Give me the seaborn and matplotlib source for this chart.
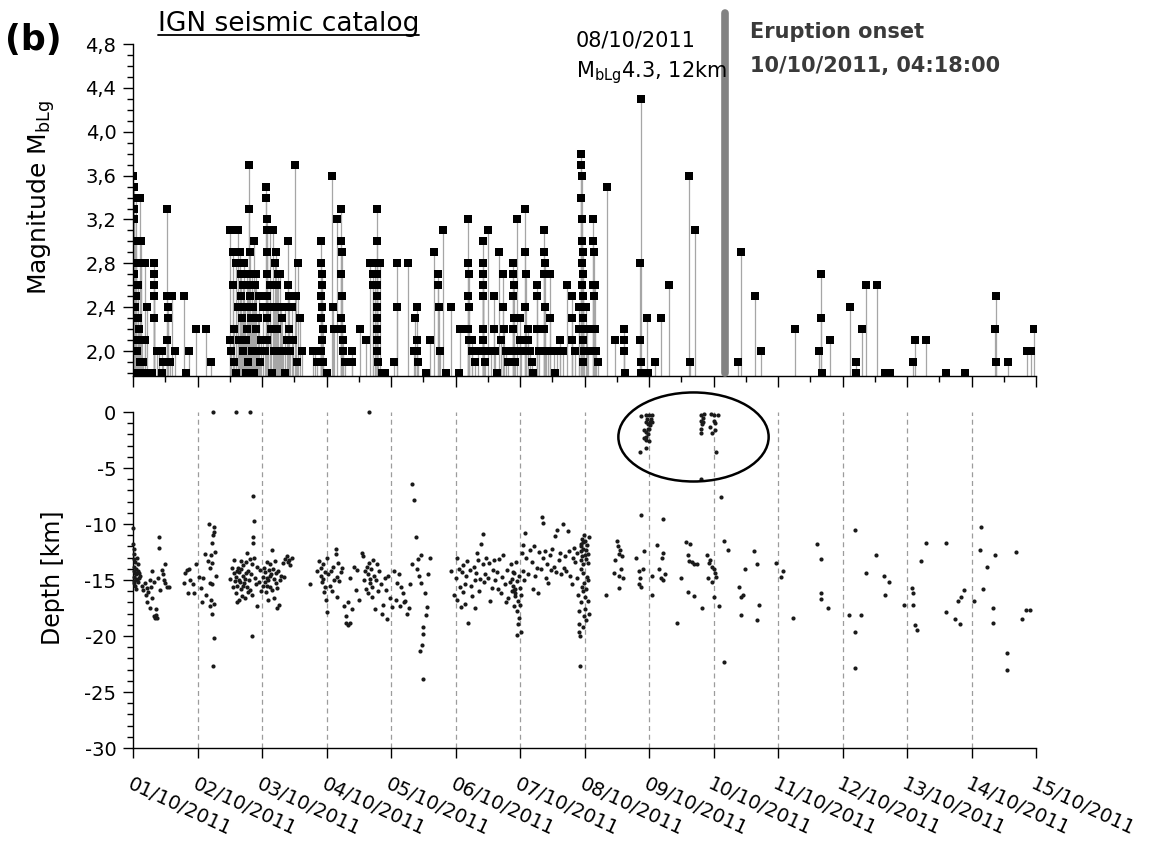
import numpy as np
import pandas as pd
import matplotlib
matplotlib.use("Agg")
import matplotlib.pyplot as plt
from matplotlib.patches import Ellipse
from matplotlib.lines import Line2D
from matplotlib.ticker import MultipleLocator, FuncFormatter
import seaborn as sns

sns.set_style("ticks", {"axes.edgecolor": "black", "xtick.color": "black",
                        "ytick.color": "black", "text.color": "black",
                        "axes.labelcolor": "black"})
plt.rcParams["font.family"] = ["DejaVu Sans"]
plt.rcParams["mathtext.fontset"] = "dejavusans"
plt.rcParams["axes.unicode_minus"] = False

# ---------------------------------------------------------------------------
# IGN catalogue, October 2011.  Times are day-of-month (fractional days).
# Magnitude events: (time, M_bLg)
# ---------------------------------------------------------------------------
mag_oct01 = [
    (1.005, 3.6), (1.01, 3.5), (1.015, 3.3), (1.02, 3.2), (1.03, 3.0), (1.05, 3.4),
    (1.11, 3.4), (1.05, 3.0), (1.12, 3.0), (1.05, 2.8), (1.13, 2.8), (1.19, 2.8),
    (1.02, 2.7), (1.08, 2.6), (1.05, 2.5), (1.03, 2.4), (1.07, 2.3), (1.10, 2.2),
    (1.04, 2.1), (1.09, 2.1), (1.14, 2.1), (1.18, 2.1), (1.06, 2.0), (1.11, 1.9),
    (1.15, 1.9), (1.32, 2.8), (1.32, 2.7), (1.32, 2.6), (1.33, 2.5), (1.33, 2.3),
    (1.22, 2.4), (1.37, 2.0), (1.40, 2.0), (1.45, 2.0), (1.30, 1.8), (1.53, 3.3),
    (1.53, 2.5), (1.54, 2.4), (1.54, 2.3), (1.53, 2.1), (1.60, 2.5), (1.65, 2.0),
    (1.47, 1.9), (1.52, 1.9), (1.58, 1.9), (1.79, 2.5), (1.82, 1.8), (1.87, 2.0),
    (1.97, 2.2), (1.25, 1.8), (1.45, 1.8), (1.01, 1.8), (1.09, 1.8), (1.17, 1.8),
    (1.21, 1.8),
]
mag_oct02 = [
    (2.13, 2.2), (2.21, 1.9), (2.50, 3.1), (2.50, 2.1), (2.52, 2.0), (2.55, 2.9),
    (2.55, 2.6), (2.56, 2.2), (2.57, 1.9), (2.60, 2.8), (2.63, 3.1), (2.63, 2.8),
    (2.63, 2.4), (2.64, 2.1), (2.66, 2.9), (2.67, 2.7), (2.68, 2.5), (2.69, 2.3),
    (2.70, 2.0), (2.71, 2.6), (2.72, 2.8), (2.74, 2.4), (2.75, 2.1), (2.76, 2.7),
    (2.77, 2.2), (2.78, 2.6), (2.79, 1.9), (2.80, 3.7), (2.80, 3.3), (2.81, 2.9),
    (2.82, 2.5), (2.83, 2.3), (2.84, 2.7), (2.85, 2.0), (2.86, 2.4), (2.88, 3.0),
    (2.89, 2.6), (2.90, 2.2), (2.91, 2.7), (2.92, 2.0), (2.94, 2.3), (2.96, 2.5),
    (2.97, 1.9), (2.99, 2.1), (2.60, 1.8), (2.75, 1.8), (2.88, 1.8),
]
mag_oct03 = [
    (3.02, 2.4), (3.04, 2.0), (3.06, 3.5), (3.06, 3.4), (3.07, 3.2), (3.07, 3.1),
    (3.07, 2.9), (3.08, 2.7), (3.08, 2.5), (3.08, 2.3), (3.08, 2.1), (3.10, 2.4),
    (3.12, 3.1), (3.13, 2.6), (3.14, 2.2), (3.17, 3.1), (3.18, 2.4), (3.19, 2.0),
    (3.20, 2.8), (3.22, 2.9), (3.23, 2.6), (3.24, 2.2), (3.25, 2.7), (3.26, 2.0),
    (3.28, 2.7), (3.29, 2.4), (3.31, 2.3), (3.33, 2.0), (3.36, 2.4), (3.38, 2.1),
    (3.41, 3.0), (3.41, 2.6), (3.42, 2.5), (3.42, 2.2), (3.44, 2.0), (3.46, 2.4),
    (3.48, 2.1), (3.51, 3.7), (3.53, 2.5), (3.56, 2.8), (3.59, 2.3), (3.55, 1.9),
    (3.62, 2.0), (3.79, 2.0), (3.82, 2.0), (3.86, 1.9), (3.92, 3.0), (3.92, 2.8),
    (3.93, 2.7), (3.93, 2.6), (3.92, 2.5), (3.93, 2.4), (3.92, 2.3), (3.94, 2.2),
    (3.93, 2.1), (3.92, 2.0), (3.95, 1.9), (3.15, 1.8), (3.35, 1.8),
]
mag_oct04_05 = [
    (4.00, 1.8), (4.08, 3.6), (4.10, 2.4), (4.11, 2.2), (4.17, 3.2), (4.23, 3.3),
    (4.23, 3.0), (4.24, 2.9), (4.23, 2.7), (4.24, 2.5), (4.23, 2.3), (4.24, 2.2),
    (4.25, 2.1), (4.26, 2.0), (4.28, 1.9), (4.39, 2.0), (4.40, 1.9), (4.52, 2.2),
    (4.62, 2.1), (4.68, 2.8), (4.72, 2.7), (4.72, 2.6), (4.75, 2.8), (4.78, 3.3),
    (4.78, 3.0), (4.79, 2.8), (4.78, 2.7), (4.79, 2.6), (4.78, 2.5), (4.79, 2.4),
    (4.78, 2.3), (4.79, 2.2), (4.79, 2.1), (4.78, 2.0), (4.80, 1.9), (4.83, 2.8),
    (4.86, 1.8), (4.90, 1.8), (5.04, 1.9), (5.09, 2.8), (5.09, 2.4), (5.27, 2.8),
    (5.35, 2.0), (5.37, 2.3), (5.40, 2.4), (5.40, 2.1), (5.41, 2.0), (5.42, 1.9),
    (5.60, 2.1), (5.67, 2.9), (5.73, 2.7), (5.73, 2.6), (5.74, 2.4), (5.76, 2.0),
    (5.81, 3.1), (5.93, 2.4), (5.55, 1.8), (5.85, 1.8),
]
mag_oct06_07 = [
    (6.07, 2.2), (6.05, 1.8), (6.20, 3.2), (6.20, 2.8), (6.21, 2.7), (6.20, 2.5),
    (6.21, 2.4), (6.20, 2.2), (6.21, 2.1), (6.25, 2.1), (6.26, 2.0), (6.30, 1.9),
    (6.35, 2.0), (6.42, 3.0), (6.42, 2.8), (6.43, 2.7), (6.42, 2.6), (6.43, 2.5),
    (6.42, 2.2), (6.43, 2.1), (6.44, 2.0), (6.46, 1.9), (6.51, 3.1), (6.55, 2.0),
    (6.60, 2.5), (6.60, 2.2), (6.62, 2.0), (6.68, 2.9), (6.70, 2.1), (6.74, 2.7),
    (6.74, 2.4), (6.75, 2.2), (6.78, 2.0), (6.82, 1.9), (6.89, 2.8), (6.89, 2.7),
    (6.90, 2.6), (6.89, 2.5), (6.90, 2.3), (6.89, 2.2), (6.91, 2.0), (6.93, 1.9),
    (6.95, 3.2), (7.00, 2.3), (7.00, 2.1), (7.02, 2.0), (7.08, 3.3), (7.08, 2.9),
    (7.09, 2.7), (7.08, 2.4), (7.10, 2.0), (7.13, 2.2), (7.13, 2.1), (7.15, 2.0),
    (7.18, 1.9), (7.26, 2.6), (7.26, 2.5), (7.27, 2.2), (7.30, 2.0), (7.37, 3.1),
    (7.37, 2.9), (7.38, 2.8), (7.37, 2.7), (7.38, 2.4), (7.37, 2.2), (7.40, 2.0),
    (7.44, 2.0), (7.47, 2.7), (7.47, 2.3), (7.52, 2.0), (7.57, 2.0), (7.62, 2.1),
    (7.62, 2.0), (7.66, 2.0), (7.73, 2.6), (7.80, 2.5), (7.80, 2.3), (7.81, 2.1),
    (7.85, 2.0), (7.91, 2.4), (7.91, 2.2), (6.65, 1.8), (7.20, 1.8), (7.55, 1.8),
]
mag_oct08_09 = [
    (7.95, 3.8), (7.95, 3.7), (7.96, 3.6), (7.95, 3.4), (7.96, 3.2), (7.96, 3.0),
    (7.97, 2.9), (7.96, 2.8), (7.97, 2.7), (7.96, 2.6), (7.97, 2.5), (7.98, 2.4),
    (7.97, 2.3), (7.98, 2.2), (7.97, 2.1), (7.99, 2.0), (7.98, 1.9), (8.02, 2.4),
    (8.04, 2.2), (8.06, 2.0), (8.13, 3.2), (8.13, 3.0), (8.14, 2.9), (8.13, 2.6),
    (8.14, 2.5), (8.16, 2.6), (8.16, 2.2), (8.18, 2.0), (8.21, 1.9), (8.35, 3.5),
    (8.48, 2.1), (8.61, 2.2), (8.62, 2.1), (8.61, 2.0), (8.63, 1.8), (8.87, 4.3),
    (8.86, 2.8), (8.86, 2.1), (8.88, 1.9), (8.87, 1.8), (8.97, 2.3), (8.98, 1.8),
    (9.10, 1.9), (9.19, 2.3), (9.31, 2.6), (9.62, 3.6), (9.63, 1.9), (9.71, 3.1),
]
mag_post_eruption = [
    (10.38, 1.9), (10.43, 2.9), (10.64, 2.5), (10.74, 2.0), (11.26, 2.2), (11.63, 2.0),
    (11.67, 2.7), (11.66, 2.3), (11.68, 1.8), (11.80, 2.1), (12.12, 2.4), (12.21, 1.9),
    (12.21, 1.8), (12.31, 2.2), (12.37, 2.6), (12.53, 2.6), (12.66, 1.8), (12.73, 1.8),
    (13.09, 1.9), (13.12, 2.1), (13.30, 2.1), (13.61, 1.8), (13.90, 1.8), (14.38, 2.5),
    (14.37, 2.2), (14.38, 1.9), (14.57, 1.9), (14.86, 2.0), (14.92, 2.0), (14.97, 2.2),
]

# Hypocentral depths: (time, depth in km, negative downward)
depth_oct01 = [
    (1.00, -10.4), (1.00, -11.8), (1.01, -12.2), (1.02, -12.7), (1.01, -13.1), (1.03, -13.4),
    (1.02, -13.8), (1.04, -14.0), (1.01, -14.2), (1.03, -14.4), (1.05, -14.5), (1.02, -14.7),
    (1.04, -14.9), (1.06, -15.0), (1.01, -15.3), (1.03, -15.5), (1.07, -14.2), (1.08, -13.6),
    (1.09, -14.8), (1.06, -13.0), (1.10, -14.4), (1.05, -15.8), (1.02, -15.1), (1.08, -15.2),
    (1.11, -14.6), (1.14, -15.5), (1.16, -15.9), (1.18, -15.3), (1.20, -16.3), (1.22, -15.7),
    (1.24, -16.1), (1.26, -15.0), (1.28, -15.6), (1.21, -17.0), (1.27, -17.5), (1.30, -14.2),
    (1.29, -16.6), (1.32, -18.2), (1.34, -18.4), (1.36, -18.1), (1.37, -18.4), (1.35, -17.6),
    (1.33, -15.2), (1.39, -14.8), (1.40, -11.2), (1.41, -12.1), (1.42, -15.9), (1.45, -14.1),
    (1.47, -14.5), (1.49, -13.6), (1.50, -15.3), (1.48, -15.0), (1.53, -15.6), (1.56, -15.6),
    (1.79, -15.3), (1.80, -14.4), (1.83, -14.1), (1.85, -16.2), (1.87, -14.0), (1.89, -15.0),
    (1.93, -15.4), (1.95, -16.2), (1.97, -13.6),
]
depth_oct02 = [
    (2.03, -14.7), (2.05, -15.7), (2.07, -17.0), (2.09, -14.8), (2.12, -12.7), (2.13, -16.3),
    (2.16, -13.3), (2.18, -10.0), (2.19, -15.3), (2.20, -17.3), (2.21, -12.8), (2.22, -13.5),
    (2.23, -15.4), (2.24, -11.0), (2.25, -10.3), (2.23, -18.0), (2.25, -20.2), (2.24, -22.7),
    (2.26, -17.1), (2.27, -12.5), (2.28, -14.6), (2.22, -11.7), (2.26, -10.7), (2.20, -13.9),
    (2.21, -16.8), (2.24, 0.0), (2.60, 0.0), (2.81, 0.0),
    (2.51, -14.9), (2.53, -13.9), (2.55, -15.6), (2.56, -14.4), (2.57, -13.2), (2.58, -15.1),
    (2.59, -16.2), (2.60, -14.7), (2.61, -17.0), (2.62, -15.5), (2.63, -13.9), (2.64, -14.3),
    (2.65, -16.8), (2.66, -15.2), (2.67, -14.0), (2.68, -15.8), (2.69, -16.4), (2.70, -14.6),
    (2.71, -13.7), (2.72, -15.3), (2.73, -16.6), (2.74, -14.9), (2.75, -13.4), (2.76, -15.6),
    (2.77, -12.6), (2.78, -16.1), (2.79, -14.2), (2.80, -15.0), (2.81, -13.1), (2.82, -15.9),
    (2.83, -14.5), (2.84, -16.3), (2.85, -13.6), (2.86, -11.7), (2.86, -11.2), (2.87, -9.7),
    (2.86, -7.5), (2.84, -20.0), (2.88, -13.0), (2.89, -14.8), (2.90, -15.4), (2.92, -17.3),
    (2.93, -13.8), (2.95, -15.2), (2.97, -14.1), (2.99, -16.0), (2.65, -15.0), (2.70, -15.5),
    (2.75, -14.4), (2.62, -14.2), (2.68, -13.3),
]
depth_oct03 = [
    (3.01, -14.7), (3.02, -15.5), (3.03, -13.9), (3.04, -14.3), (3.05, -15.2), (3.06, -16.1),
    (3.07, -13.4), (3.08, -14.8), (3.09, -15.0), (3.10, -16.8), (3.11, -14.1), (3.12, -13.6),
    (3.13, -15.6), (3.14, -14.5), (3.15, -12.3), (3.16, -15.9), (3.17, -14.0), (3.18, -16.6),
    (3.19, -14.9), (3.20, -13.3), (3.21, -15.3), (3.22, -14.4), (3.23, -17.5), (3.24, -15.7),
    (3.25, -14.2), (3.26, -17.2), (3.28, -15.0), (3.30, -14.6), (3.32, -13.5), (3.34, -14.7),
    (3.36, -13.1), (3.38, -12.9), (3.40, -13.4), (3.42, -13.2), (3.44, -13.7), (3.46, -13.0),
    (3.08, -15.5), (3.13, -14.6), (3.75, -15.4), (3.86, -14.2), (3.89, -13.3), (3.91, -13.9),
    (3.92, -14.6), (3.93, -15.2), (3.94, -13.6), (3.95, -14.9), (3.96, -16.1), (3.97, -14.3),
    (3.98, -15.6), (3.99, -16.8),
]
depth_oct04 = [
    (4.00, -17.9), (4.01, -13.0), (4.02, -14.5), (4.05, -15.5), (4.07, -14.2), (4.08, -16.0),
    (4.10, -13.8), (4.12, -15.0), (4.14, -12.7), (4.15, -12.2), (4.16, -14.7), (4.17, -16.5),
    (4.18, -13.5), (4.20, -15.1), (4.22, -14.3), (4.24, -13.9), (4.27, -17.3), (4.30, -18.8),
    (4.31, -18.2), (4.34, -17.0), (4.33, -19.0), (4.36, -14.8), (4.37, -18.8), (4.39, -17.6),
    (4.42, -13.8), (4.45, -15.9), (4.48, -14.1), (4.50, -16.8), (4.55, -12.6), (4.57, -12.9),
    (4.58, -15.0), (4.60, -14.2), (4.62, -15.8), (4.63, -13.8), (4.64, -14.5), (4.65, -16.2),
    (4.66, -13.5), (4.67, -14.9), (4.68, -15.3), (4.69, -14.0), (4.70, -16.5), (4.71, -15.6),
    (4.72, -13.2), (4.74, -14.6), (4.75, -17.6), (4.76, -15.0), (4.78, -13.6), (4.80, -16.0),
    (4.82, -14.2), (4.84, -15.4), (4.86, -18.0), (4.88, -17.2), (4.90, -14.8), (4.92, -15.9),
    (4.94, -18.5), (4.96, -14.6), (4.98, -16.6), (4.66, 0.0),
]
depth_oct05 = [
    (5.02, -17.4), (5.05, -14.2), (5.08, -16.8), (5.10, -15.3), (5.12, -14.5), (5.14, -17.3),
    (5.16, -15.6), (5.18, -16.2), (5.20, -17.0), (5.22, -16.9), (5.25, -18.0), (5.28, -17.5),
    (5.30, -15.4), (5.32, -13.6), (5.33, -6.4), (5.36, -7.9), (5.38, -11.2), (5.40, -14.0),
    (5.42, -13.1), (5.44, -14.6), (5.46, -15.3), (5.45, -21.3), (5.48, -20.8), (5.50, -19.2),
    (5.49, -19.8), (5.50, -23.8), (5.52, -16.2), (5.54, -18.1), (5.56, -17.4), (5.58, -14.5),
    (5.60, -13.0), (5.47, -12.8), (5.93, -14.2), (5.97, -16.3),
]
depth_oct06 = [
    (6.00, -14.8), (6.02, -16.8), (6.03, -13.0), (6.05, -14.0), (6.07, -15.6), (6.08, -17.4),
    (6.10, -14.3), (6.11, -16.1), (6.12, -13.7), (6.14, -15.4), (6.15, -17.1), (6.17, -14.6),
    (6.18, -13.3), (6.20, -18.8), (6.22, -14.1), (6.24, -15.5), (6.26, -16.4), (6.28, -13.8),
    (6.30, -15.0), (6.32, -14.4), (6.34, -12.6), (6.35, -13.2), (6.36, -16.0), (6.38, -14.9),
    (6.40, -11.8), (6.42, -13.6), (6.44, -15.2), (6.46, -14.5), (6.48, -13.0), (6.50, -14.8),
    (6.52, -13.5), (6.54, -16.9), (6.56, -15.7), (6.58, -14.1), (6.60, -13.2), (6.30, -17.5),
    (6.42, -10.9), (6.62, -15.0), (6.64, -14.3), (6.66, -15.8), (6.68, -13.1), (6.70, -16.2),
    (6.72, -14.7), (6.74, -12.8), (6.76, -15.4), (6.78, -17.0), (6.80, -14.1), (6.82, -16.6),
    (6.84, -15.2), (6.86, -13.6), (6.87, -14.9), (6.88, -16.0), (6.89, -15.5), (6.90, -17.3),
    (6.91, -14.4), (6.92, -15.8), (6.93, -16.4), (6.94, -13.4), (6.95, -15.1), (6.96, -17.8),
    (6.97, -16.9), (6.98, -14.6), (6.99, -18.4), (6.97, -18.9), (6.95, -19.9), (6.93, -16.2),
    (6.91, -15.9), (6.89, -14.3),
]
depth_oct07 = [
    (7.00, -15.7), (7.01, -19.6), (7.02, -16.3), (7.03, -12.6), (7.04, -14.2), (7.05, -11.9),
    (7.06, -15.0), (7.08, -10.8), (7.10, -13.0), (7.12, -14.5), (7.00, -17.2), (7.15, -12.3),
    (7.18, -13.4), (7.20, -15.8), (7.22, -12.0), (7.24, -14.6), (7.26, -13.9), (7.28, -16.2),
    (7.30, -12.5), (7.32, -14.0), (7.34, -9.4), (7.35, -9.9), (7.36, -13.0), (7.38, -12.4),
    (7.40, -14.8), (7.42, -13.6), (7.44, -15.3), (7.46, -12.8), (7.48, -14.1), (7.50, -12.2),
    (7.52, -13.8), (7.54, -11.1), (7.56, -14.3), (7.58, -10.5), (7.60, -13.2), (7.62, -12.6),
    (7.64, -14.5), (7.66, -10.0), (7.68, -13.9), (7.70, -12.9), (7.72, -14.2), (7.74, -10.6),
    (7.76, -12.4), (7.78, -14.6), (7.80, -15.4), (7.82, -13.0), (7.84, -12.1), (7.86, -13.4),
    (7.88, -12.6), (7.89, -14.8), (7.90, -16.3), (7.91, -17.8), (7.92, -18.9), (7.92, -19.6),
    (7.93, -20.0), (7.93, -22.7), (7.94, -12.0), (7.94, -13.2), (7.95, -11.8), (7.95, -12.4),
    (7.96, -11.3), (7.96, -12.9), (7.97, -11.6), (7.97, -13.6), (7.98, -12.2), (7.98, -14.4),
    (7.99, -11.0), (7.99, -15.3), (7.95, -17.0), (7.97, -19.2), (7.99, -18.2), (7.96, -15.6),
    (7.98, -16.0), (7.94, -14.0),
]
depth_oct08_09 = [
    (8.00, -12.8), (8.00, -16.5), (8.01, -11.5), (8.01, -17.6), (8.02, -12.3), (8.02, -15.8),
    (8.03, -13.1), (8.03, -18.6), (8.04, -11.9), (8.04, -14.7), (8.05, -12.7), (8.05, -16.9),
    (8.06, -13.5), (8.06, -15.0), (8.07, -11.2), (8.07, -18.0), (8.33, -16.3), (8.46, -14.4),
    (8.48, -13.2), (8.52, -12.0), (8.50, -11.5), (8.55, -12.3), (8.53, -14.6), (8.54, -12.7),
    (8.57, -14.0), (8.58, -12.9), (8.60, -14.8), (8.53, -15.7), (8.87, -9.2), (8.80, -13.0),
    (8.84, -14.2), (8.86, -14.8), (8.88, -15.6), (8.90, -14.0), (8.92, -12.4), (8.85, -15.4),
    (9.05, -16.3), (9.05, -14.6), (9.13, -11.9), (9.20, -13.0), (9.22, -12.6), (9.16, -14.0),
    (9.19, -14.8), (9.22, -15.0), (9.25, -14.5), (9.22, -9.55), (9.44, -18.8), (9.49, -14.8),
    (9.57, -11.6), (9.60, -12.8), (9.64, -11.8), (9.62, -13.3), (9.67, -13.4), (9.70, -13.6),
    (9.75, -13.6), (9.60, -16.1), (9.69, -16.4), (9.82, -17.5), (9.90, -12.8), (9.93, -13.5),
    (9.95, -13.2), (9.97, -13.8), (10.00, -14.0), (10.02, -14.4), (9.92, -14.8), (9.98, -15.2),
    (10.04, -14.7), (10.00, -16.5), (10.08, -17.3), (10.17, -22.3), (10.12, -7.6),
    (10.17, -11.5), (10.23, -12.3),
]
# shallow events beneath the vent area
depth_shallow = [
    (8.87, -0.4), (8.96, -0.3), (9.00, -0.3), (9.04, -0.3), (8.97, -0.6), (9.03, -0.6),
    (8.96, -0.9), (9.01, -0.9), (9.04, -0.9), (9.02, -1.2), (8.99, -1.5), (8.93, -1.6),
    (8.95, -1.8), (9.00, -1.5), (8.95, -2.2), (8.98, -2.0), (8.96, -2.5), (9.00, -2.6),
    (8.95, -3.2), (8.86, -3.6), (8.99, -1.1), (8.92, -2.3), (9.81, -0.3), (9.83, -0.5),
    (9.85, -0.2), (9.81, -0.8), (9.82, -1.1), (9.81, -1.5), (9.84, -0.9), (9.96, -0.2),
    (10.00, -0.3), (10.07, -0.3), (10.00, -0.8), (9.94, -1.3), (10.03, -1.0), (9.97, -1.9),
    (10.02, -1.6), (10.04, -3.6), (9.80, -1.9), (9.81, -6.0),
]
depth_post_eruption = [
    (10.40, -15.6), (10.42, -16.5), (10.45, -16.3), (10.43, -18.1), (10.49, -14.0),
    (10.63, -12.4), (10.67, -13.6), (10.67, -18.6), (10.71, -17.2), (10.97, -13.5),
    (11.07, -14.2), (11.05, -14.7), (11.24, -18.4), (11.61, -11.8), (11.66, -13.1),
    (11.66, -16.2), (11.66, -16.7), (11.78, -17.5), (12.10, -18.1), (12.20, -10.5),
    (12.20, -19.6), (12.19, -22.9), (12.29, -18.1), (12.36, -14.4), (12.52, -12.8),
    (12.65, -14.6), (12.72, -15.2), (12.66, -16.3), (12.96, -17.2), (13.07, -15.7),
    (13.09, -16.2), (13.10, -17.2), (13.13, -19.0), (13.16, -19.5), (13.22, -13.3),
    (13.29, -11.7), (13.60, -11.7), (13.60, -17.9), (13.74, -18.5), (13.79, -16.9),
    (13.82, -18.9), (13.84, -16.5), (13.89, -15.9), (14.04, -16.9), (14.13, -12.3),
    (14.15, -10.3), (14.18, -15.8), (14.24, -13.8), (14.34, -17.5), (14.34, -18.8),
    (14.37, -12.8), (14.55, -21.5), (14.55, -23.0), (14.69, -12.5), (14.79, -18.5),
    (14.84, -17.7), (14.91, -17.7),
]

DAYS = list(range(1, 16))
DATE_LABELS = ["01/10/2011", "02/10/2011", "03/10/2011", "04/10/2011", "05/10/2011",
               "06/10/2011", "07/10/2011", "08/10/2011", "09/10/2011", "10/10/2011",
               "11/10/2011", "12/10/2011", "13/10/2011", "14/10/2011", "15/10/2011"]
MAG_TICKS = [2.0, 2.4, 2.8, 3.2, 3.6, 4.0, 4.4, 4.8]
DEPTH_TICKS = [0, -5, -10, -15, -20, -25, -30]
ERUPTION_ONSET = 10 + (4 + 18 / 60) / 24   # 10/10/2011 04:18:00

mags = pd.DataFrame(mag_oct01 + mag_oct02 + mag_oct03 + mag_oct04_05 + mag_oct06_07
                    + mag_oct08_09 + mag_post_eruption, columns=["time", "mag"])
depths = pd.DataFrame(depth_oct01 + depth_oct02 + depth_oct03 + depth_oct04 + depth_oct05
                      + depth_oct06 + depth_oct07 + depth_oct08_09 + depth_shallow
                      + depth_post_eruption, columns=["time", "depth"])

W, H = 1150, 844
fig = plt.figure(figsize=(W / 100, H / 100), dpi=100)
fig.patch.set_facecolor("white")

def fx(px):
    return px / W

def fy(py):
    return 1 - py / H

ax1 = fig.add_axes([fx(133), fy(376), fx(1036) - fx(133), fy(44) - fy(376)])
ax2 = fig.add_axes([fx(133), fy(748), fx(1036) - fx(133), fy(412) - fy(748)])

MAG_FLOOR = 1.773

# --- magnitude stems ---------------------------------------------------------
ax1.vlines(mags["time"], MAG_FLOOR, mags["mag"], colors="#a6a6a6", lw=0.9, zorder=1)
sns.scatterplot(data=mags, x="time", y="mag", marker="s", s=36, color="black",
                linewidth=0, ax=ax1, zorder=3)
ax1.plot([ERUPTION_ONSET, ERUPTION_ONSET], [MAG_FLOOR + 0.03, 5.08], color="#828282",
         lw=5.5, solid_capstyle="round", clip_on=False, zorder=4)

ax1.set_xlim(1, 15)
ax1.set_ylim(MAG_FLOOR, 4.8)
ax1.set_yticks(MAG_TICKS)
ax1.yaxis.set_minor_locator(MultipleLocator(0.1))
ax1.yaxis.set_major_formatter(FuncFormatter(lambda v, p: f"{v:.1f}".replace(".", ",")))
ax1.set_xticks(DAYS)
ax1.xaxis.set_minor_locator(MultipleLocator(0.5))
ax1.tick_params(axis="x", which="both", labelbottom=False)
ax1.tick_params(axis="x", which="major", length=8, width=1)
ax1.tick_params(axis="x", which="minor", length=4.5, width=1)
ax1.tick_params(axis="y", which="major", length=7, width=1, labelsize=14, pad=5)
ax1.tick_params(axis="y", which="minor", length=4, width=1)
ax1.set_xlabel("")
ax1.set_ylabel("Magnitude M$_{\\mathrm{bLg}}$", fontsize=18)
ax1.yaxis.set_label_coords(-0.084, 0.536)
sns.despine(ax=ax1)

# --- depth scatter -----------------------------------------------------------
for d in DAYS[1:-1]:
    ax2.axvline(d, color="#9c9c9c", lw=0.9, ls=(0, (4, 3)), zorder=0)
sns.scatterplot(data=depths, x="time", y="depth", s=9, color="#1a1a1a", linewidth=0,
                ax=ax2, clip_on=False, zorder=3)
ax2.add_patch(Ellipse((9.69, -2.23), 2.33, 7.95, fill=False, ec="black", lw=1.8,
                      clip_on=False, zorder=4))

ax2.set_xlim(1, 15)
ax2.set_ylim(-30, 0)
ax2.set_yticks(DEPTH_TICKS)
ax2.yaxis.set_minor_locator(MultipleLocator(1))
ax2.set_xticks(DAYS)
ax2.set_xticklabels(DATE_LABELS)
ax2.tick_params(axis="x", which="major", length=7, width=1, labelsize=14, pad=12)
ax2.tick_params(axis="y", which="major", length=7, width=1, labelsize=14, pad=5)
ax2.tick_params(axis="y", which="minor", length=4, width=1)
plt.setp(ax2.get_xticklabels(), rotation=-25, ha="left", va="top", rotation_mode="anchor")
ax2.set_xlabel("")
ax2.set_ylabel("Depth [km]", fontsize=17)
ax2.yaxis.set_label_coords(-0.0753, 0.506)
sns.despine(ax=ax2)

for ax in (ax1, ax2):
    for s in ("left", "bottom"):
        ax.spines[s].set_linewidth(1.0)
        ax.spines[s].set_color("black")

# --- annotations -------------------------------------------------------------
fig.text(fx(5), fy(50), "(b)", fontsize=25, fontweight="bold", ha="left", va="baseline")
title = fig.text(fx(158), fy(31), "IGN seismic catalog", fontsize=19, ha="left",
                 va="baseline")
fig.text(fx(576), fy(47), "08/10/2011", fontsize=15, ha="left", va="baseline")
fig.text(fx(576), fy(77), "M$_{\\mathrm{bLg}}$4.3, 12km", fontsize=15, ha="left",
         va="baseline")
fig.text(fx(750), fy(38), "Eruption onset", fontsize=15, fontweight="bold",
         color="#3a3a3a", ha="left", va="baseline")
fig.text(fx(750), fy(72), "10/10/2011, 04:18:00", fontsize=15, fontweight="bold",
         color="#3a3a3a", ha="left", va="baseline")

fig.canvas.draw()
bb = title.get_window_extent(fig.canvas.get_renderer()).transformed(fig.transFigure.inverted())
fig.add_artist(Line2D([bb.x0, bb.x1], [fy(35), fy(35)], color="black", lw=1.3))

fig.savefig("out.png", dpi=100, facecolor="white")
